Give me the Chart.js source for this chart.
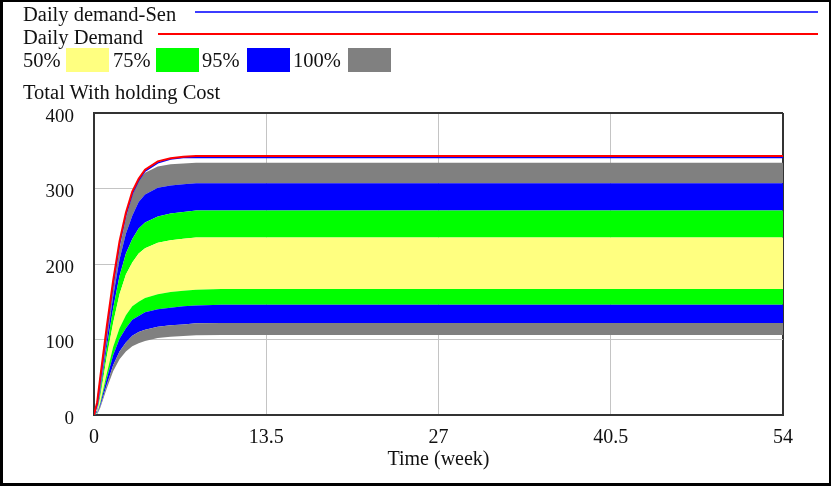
<!DOCTYPE html>
<html>
<head>
<meta charset="utf-8">
<script src="https://cdn.jsdelivr.net/npm/chart.js@4/dist/chart.umd.min.js"></script>
<style>
body { margin: 0; background: #fff; }
#wrap { position: relative; width: 831px; height: 486px; overflow: hidden; font-family: "Liberation Serif", "Times New Roman", serif; }
#chart { position: absolute; left: 0; top: 0; }
.txt { position: absolute; font-size: 20.5px; line-height: 20px; color: #111; white-space: nowrap; }
.sw { position: absolute; }
#frame { position: absolute; left: 0; top: 0; width: 826px; height: 481px; border: 2px solid #000; border-left-width: 3px; border-bottom-width: 3px; }
</style>
</head>
<body>
<div id="wrap">
  <canvas id="chart" width="831" height="486"></canvas>
  <div class="txt" style="left:23px;top:4px">Daily demand-Sen</div>
  <div class="sw" style="left:195px;top:11px;width:623px;height:2px;background:#3c3cff"></div>
  <div class="txt" style="left:23px;top:27px">Daily Demand</div>
  <div class="sw" style="left:158px;top:33px;width:660px;height:2px;background:#ff0000"></div>
  <div class="txt" style="left:23px;top:50px">50%</div>
  <div class="sw" style="left:66px;top:48px;width:43px;height:24px;background:#ffff80"></div>
  <div class="txt" style="left:113px;top:50px">75%</div>
  <div class="sw" style="left:156px;top:48px;width:43px;height:24px;background:#00ff00"></div>
  <div class="txt" style="left:202px;top:50px">95%</div>
  <div class="sw" style="left:247px;top:48px;width:43px;height:24px;background:#0000ff"></div>
  <div class="txt" style="left:293px;top:50px">100%</div>
  <div class="sw" style="left:348px;top:48px;width:43px;height:24px;background:#808080"></div>
  <div class="txt" style="left:23px;top:82px">Total With holding Cost</div>
  <div id="frame"></div>
</div>
<script>
// time axis (week)
let weeks = [0, 0.25, 0.5, 1, 1.5, 2, 2.5, 3, 3.5, 4, 5, 6, 7, 8, 10, 54];

// Daily Demand / Daily demand-Sen
let dailyDemand    = [0, 17, 51, 117, 178, 230, 268, 296, 313, 325, 336, 340, 342, 343, 343, 343];
let dailyDemandSen = [0, 14, 47, 112, 173, 226, 265, 293, 311, 323, 334, 339, 341, 341, 341, 341];

// sensitivity band limits, Total With holding Cost
let top100 = [0, 7, 40, 107, 167, 220, 261, 291, 311, 321, 329, 332, 333, 334, 334, 334];
let top95  = [0, 6, 34, 98, 157, 206, 240, 264, 282, 292, 301, 304, 305.5, 307, 307, 307];
let top75  = [0, 4, 30, 89, 141, 184, 214, 233, 247, 255, 263, 267, 269, 271, 271, 271];
let top50  = [0, 3, 25, 77, 122, 160, 186, 202, 214, 221, 228, 231.5, 233.5, 235, 235, 235];
let bot50  = [0, 2, 17, 55, 90, 115, 132, 144, 150, 155, 160, 163, 164.5, 166, 167, 167];
let bot75  = [0, 1.5, 14.6, 48, 79, 101, 115, 126, 131, 136, 140, 142, 144, 145, 146, 146];
let bot95  = [0, 1, 12, 40, 66, 84, 96, 105, 110, 113, 117, 119, 120, 121.5, 122, 122];
let bot100 = [0, 1, 10, 35, 58, 74, 84, 91, 95, 98, 102, 103.5, 104.5, 105.5, 106, 106];

let xTicks = [0, 13.5, 27, 40.5, 54];
let yTicks = [0, 100, 200, 300, 400];

function toPoints(values)
{
    return weeks.map(function(w, i){ return { x: w, y: values[i] }; });
}

function band(values, color)
{
    return {
        data: toPoints(values),
        borderWidth: 0,
        backgroundColor: color,
        fill: '-1',
        pointRadius: 0
    };
}

let serif = "'Liberation Serif', 'Times New Roman', serif";

new Chart(document.getElementById('chart'), {
    type: 'line',
    data: {
        datasets: [
            { data: toPoints(dailyDemand), borderColor: '#ff0000', borderWidth: 2, fill: false, pointRadius: 0 },
            { data: toPoints(dailyDemandSen), borderColor: '#0000ff', borderWidth: 1.5, fill: false, pointRadius: 0 },
            { data: toPoints(bot100), borderWidth: 0, fill: false, pointRadius: 0 },
            band(bot95, '#808080'),
            band(bot75, '#0000ff'),
            band(bot50, '#00ff00'),
            band(top50, '#ffff80'),
            band(top75, '#00ff00'),
            band(top95, '#0000ff'),
            band(top100, '#808080')
        ]
    },
    options: {
        responsive: false,
        animation: false,
        layout: { padding: { left: 0, top: 113, right: 48, bottom: 0 } },
        plugins: { legend: { display: false }, tooltip: { enabled: false } },
        scales: {
            x: {
                type: 'linear',
                min: 0,
                max: 54,
                z: 1,
                afterBuildTicks: function(scale){ scale.ticks = xTicks.map(function(v){ return { value: v }; }); },
                afterFit: function(scale){ scale.height = 71; },
                ticks: { color: '#111', font: { family: serif, size: 20 }, padding: 11,
                         callback: function(v){ return String(v); } },
                grid: {
                    drawTicks: false,
                    color: function(c){ return c.tick && c.tick.value === 54 ? '#333' : '#c4c4c4'; },
                    lineWidth: function(c){ return c.tick && c.tick.value === 54 ? 2 : 1; }
                },
                border: { display: true, color: '#333', width: 2 },
                title: { display: true, text: 'Time (week)', color: '#111',
                         font: { family: serif, size: 20 }, padding: { top: 0, bottom: 14 } }
            },
            y: {
                min: 0,
                max: 400,
                z: 1,
                afterBuildTicks: function(scale){ scale.ticks = yTicks.map(function(v){ return { value: v }; }); },
                afterFit: function(scale){ scale.width = 94; },
                ticks: { color: '#111', font: { family: serif, size: 19 }, padding: 20, labelOffset: 4 },
                grid: {
                    drawTicks: false,
                    color: function(c){ return c.tick && c.tick.value === 400 ? '#333' : '#c4c4c4'; },
                    lineWidth: function(c){ return c.tick && c.tick.value === 400 ? 2 : 1; }
                },
                border: { display: true, color: '#333', width: 2 }
            }
        }
    }
});
</script>
</body>
</html>
